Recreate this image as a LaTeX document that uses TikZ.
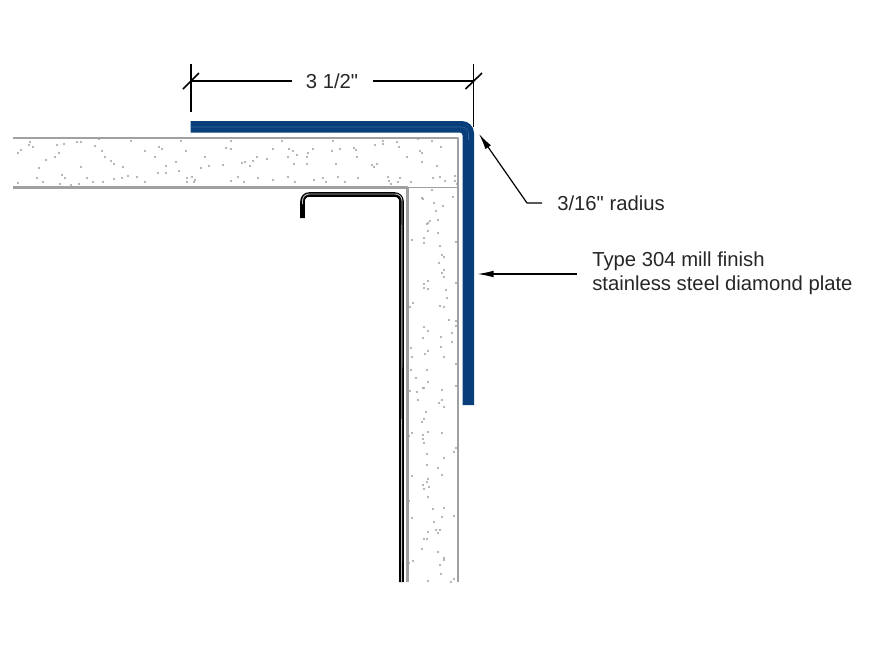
\documentclass[tikz,border=0pt]{standalone}
\usepackage{fontspec}
\setmainfont{Liberation Sans}[Ligatures=TeXOff]
\usetikzlibrary{arrows.meta}
\definecolor{platecolor}{RGB}{8,62,122}
\definecolor{platelight}{RGB}{50,100,155}
\definecolor{concretecolor}{RGB}{160,160,160}
\tikzset{
  concrete/.style={concretecolor,line width=1.6pt},
  dimline/.style={black,line width=1.2pt},
  leader/.style={black,line width=0.9pt,-{Latex[length=12pt,width=5pt]}},
  note/.style={anchor=west,inner sep=0pt,font=\fontsize{15.2}{18}\selectfont,text=black!85},
  speck/.style={fill=black!38}
}
\begin{document}
\begin{tikzpicture}[x=0.75pt,y=-0.75pt,line join=round]
\useasboundingbox (0,0) rectangle (877,658);
% concrete outline
\draw [concrete](13,138)-- (458,138)-- (458,582);
\draw [concrete](13,187.5)-- (407.5,187.5)-- (407.5,582);
\draw [concretecolor,line width=0.8pt](407.5,187.5)-- (458,187.5);
% speckle
\foreach \dotx/\doty in {
30/142,29/145,33/147,21/150,18/153,39/168,46/160,37/178,43/182,18/183,57/145,64/144,59/153,55/157,
77/142,81/142,99/139,95/146,102/151,105/157,111/161,114/164,123/167,81/167,62/175,65/178,60/184,
71/185,79/184,87/178,93/182,103/182,114/179,122/178,128/176,137/177,145/182,131/141,145/151,155/157,
159/147,162/149,158/173,166/173,166/166,176/162,179/171,181/141,186/151,187/178,187/182,192/177,
195/180,194/182,205/157,201/168,209/166,223/165,231/141,226/148,231/149,242/163,245/162,250/166,
253/161,257/157,267/159,273/149,282/141,289/149,293/151,288/157,297/155,308/153,313/149,307/157,
294/164,307/164,333/141,332/151,340/149,354/148,356/150,357/157,336/164,372/165,377/164,374/167,
375/145,383/141,383/144,397/142,399/147,418/139,432/141,420/151,422/153,441/147,407/157,422/162,
437/166,231/181,238/177,244/182,258/178,273/180,288/177,295/182,314/180,323/178,326/182,338/177,
345/182,358/178,388/177,389/181,400/178,398/182,391/184,411/182,433/178,440/177,445/181,455/176,
455/181,457/184,
432/190,422/198,453/197,423/199,434/203,443/206,436/211,438/220,430/221,428/223,427/224,428/231,
438/233,412/240,424/238,424/243,440/246,442/255,444/257,439/263,444/270,442/273,444/277,428/281,
424/284,424/288,428/289,446/290,447/298,413/303,410/307,440/306,444/307,449/320,424/327,428/331,
452/333,423/338,441/337,452/342,441/347,411/348,428/351,425/354,412/357,444/357,411/370,427/370,
416/378,428/382,423/388,456/242,456/283,456/321,456/326,456/364,456/386,
410/391,417/392,424/388,442/390,418/400,442/400,439/403,444/407,426/412,424/419,422/422,428/432,
412/433,409/436,423/435,442/433,423/439,424/443,456/448,454/452,427/454,444/458,427/465,438/468,
442/475,412/476,428/479,427/482,423/485,429/487,424/489,428/497,409/501,433/509,444/508,442/517,
454/516,412/518,434/522,428/532,436/530,440/530,438/533,424/539,427/539,422/549,438/552,444/558,
444/560,413/561,409/563,440/565,441/574,454/579,428/581,451/582} {
  \fill [speck](\dotx,\doty) circle (0.8pt);
}
% bent plate
\fill [platecolor](190.5,121) [rounded corners=9pt]-- (474,121) [sharp corners]-- (474,405)-- (462.5,405)
  [rounded corners=2pt]-- (462.5,132.5) [sharp corners]-- (190.5,132.5)-- cycle;
\draw [platelight,line width=0.4pt](191,127) [rounded corners=5pt]-- (468.5,127)-- (468.5,140);
% inner channel
\draw [black,line width=3.4pt](302.5,218) [rounded corners=5pt]-- (302.5,194.5)-- (401.5,194.5) [sharp corners]-- (401.5,582);
\draw [white!75!black,line width=0.7pt](302.5,204) [rounded corners=5pt]-- (302.5,194)-- (402,194) [sharp corners]-- (401.5,582);
% dimension
\node [inner sep=0pt,font=\fontsize{15.2}{18}\selectfont,text=black!85] (widthlabel) at (332,81) {3 1/2"};
\coordinate (dimleft) at (191,81);
\coordinate (dimright) at (473.5,81);
\draw [dimline](dimleft)-- (292,81);
\draw [dimline](373,81)-- (dimright);
\draw [dimline](191,64)-- (191,112);
\draw [dimline](473.5,64)-- (473.5,127);
\draw [dimline](183,89)-- (199,73);
\draw [dimline](465.5,89)-- (482,73);
% notes
\node [note] (radiuslabel) at (557,203.5) {3/16" radius};
\node [note] (typelabel) at (592,261) {Type 304 mill finish};
\node [note] (platelabel) at (592,285) {stainless steel diamond plate};
\coordinate (radiuselbow) at (527,203);
\coordinate (radiustip) at (479,134);
\coordinate (platetip) at (477.5,274);
\draw [leader](542,203)-- (radiuselbow)-- (radiustip);
\draw [leader](577,274)-- (platetip);
\end{tikzpicture}
\end{document}
